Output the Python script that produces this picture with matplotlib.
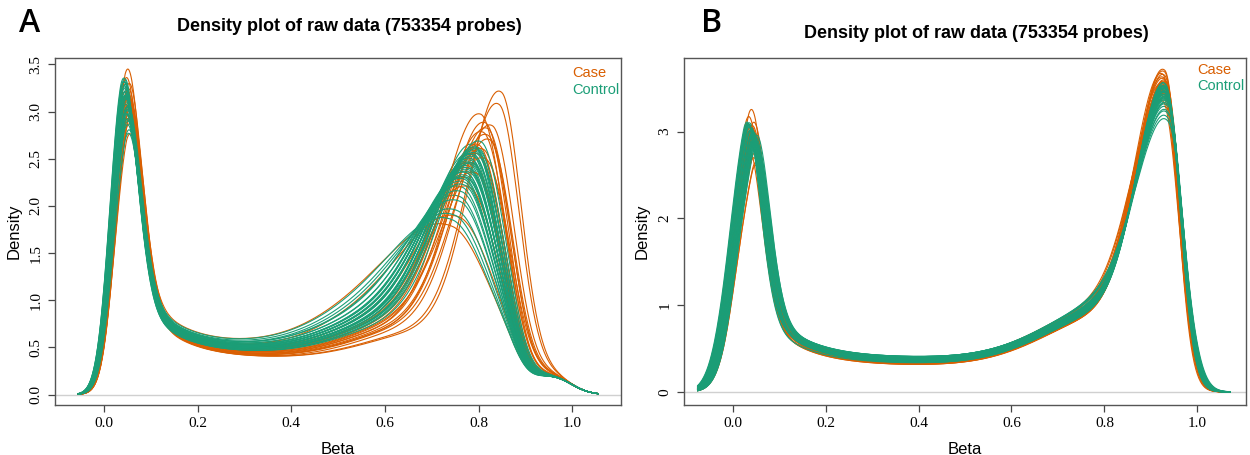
import numpy as np
import matplotlib.pyplot as plt

CASE_COLOR = '#D95F02'
CTRL_COLOR = '#1B9E77'
TITLE = 'Density plot of raw data (753354 probes)'

# ---- panel A: per-sample readings (peak positions / heights, plateau level, peak width factor)
case_a_low_x = [0.045, 0.048, 0.043, 0.050, 0.046, 0.044, 0.047, 0.049, 0.045,
                0.042, 0.048, 0.046, 0.050, 0.044, 0.047, 0.043, 0.049, 0.045]
case_a_low_y = [3.40, 3.25, 3.15, 3.05, 3.20, 2.95, 3.10, 2.85, 3.00,
                3.30, 2.70, 3.05, 2.90, 3.15, 2.80, 3.00, 2.95, 3.10]
case_a_high_x = [0.850, 0.845, 0.805, 0.815, 0.820, 0.810, 0.820, 0.800, 0.800,
                 0.790, 0.745, 0.760, 0.780, 0.810, 0.825, 0.795, 0.830, 0.815]
case_a_high_y = [3.20, 3.07, 2.97, 2.88, 2.82, 2.78, 2.75, 2.65, 2.55,
                 2.45, 1.78, 1.88, 2.20, 2.60, 2.70, 2.35, 2.85, 2.50]
case_a_mid = [0.38, 0.38, 0.40, 0.39, 0.39, 0.40, 0.40, 0.41, 0.42,
              0.44, 0.52, 0.47, 0.45, 0.41, 0.39, 0.43, 0.38, 0.42]
case_a_width = [0.80, 0.82, 0.90, 0.88, 0.90, 0.92, 0.92, 0.95, 0.98,
                1.00, 1.32, 1.25, 1.08, 0.95, 0.90, 1.02, 0.88, 0.98]

ctrl_a_low_x = [0.040, 0.037, 0.043, 0.039, 0.045, 0.036, 0.041, 0.044, 0.038, 0.042,
                0.040, 0.037, 0.043, 0.046, 0.039, 0.041, 0.044, 0.038, 0.036, 0.042,
                0.045, 0.043, 0.040, 0.038, 0.041, 0.044, 0.037, 0.039, 0.042, 0.045,
                0.040, 0.036, 0.043, 0.041, 0.044, 0.038, 0.040, 0.042, 0.037, 0.039]
ctrl_a_low_y = [3.10, 3.25, 3.00, 3.15, 2.90, 3.20, 3.05, 2.85, 3.30, 3.10,
                2.95, 3.18, 3.08, 2.75, 3.22, 3.02, 2.88, 3.12, 3.28, 2.98,
                2.70, 2.80, 2.92, 3.15, 3.05, 2.95, 3.20, 3.10, 2.85, 3.00,
                3.12, 3.24, 2.96, 3.06, 2.82, 3.16, 3.02, 2.90, 3.26, 3.08]
ctrl_a_high_x = [0.790, 0.785, 0.780, 0.795, 0.775, 0.770, 0.800, 0.785, 0.780, 0.790,
                 0.765, 0.775, 0.795, 0.760, 0.780, 0.785, 0.770, 0.790, 0.805, 0.775,
                 0.745, 0.750, 0.755, 0.780, 0.790, 0.770, 0.785, 0.795, 0.780, 0.765,
                 0.775, 0.800, 0.785, 0.770, 0.760, 0.790, 0.780, 0.775, 0.795, 0.785]
ctrl_a_high_y = [2.65, 2.55, 2.45, 2.60, 2.35, 2.30, 2.62, 2.50, 2.40, 2.55,
                 2.20, 2.30, 2.58, 2.10, 2.42, 2.48, 2.25, 2.52, 2.68, 2.35,
                 1.85, 1.90, 1.95, 2.38, 2.45, 2.28, 2.50, 2.56, 2.40, 2.15,
                 2.32, 2.60, 2.46, 2.22, 2.05, 2.54, 2.36, 2.30, 2.62, 2.44]
ctrl_a_mid = [0.44, 0.45, 0.46, 0.44, 0.47, 0.48, 0.43, 0.45, 0.46, 0.44,
              0.49, 0.47, 0.44, 0.50, 0.46, 0.45, 0.48, 0.44, 0.43, 0.47,
              0.52, 0.51, 0.50, 0.46, 0.45, 0.48, 0.45, 0.44, 0.46, 0.49,
              0.47, 0.43, 0.45, 0.48, 0.50, 0.44, 0.46, 0.47, 0.43, 0.45]
ctrl_a_width = [0.95, 1.00, 1.03, 0.97, 1.06, 1.08, 0.96, 1.01, 1.04, 1.00,
                1.12, 1.08, 0.98, 1.16, 1.04, 1.01, 1.10, 1.00, 0.94, 1.06,
                1.28, 1.24, 1.22, 1.05, 1.02, 1.08, 1.01, 0.99, 1.04, 1.13,
                1.07, 0.97, 1.02, 1.10, 1.18, 1.00, 1.06, 1.07, 0.96, 1.03]

# ---- panel B (normalised)
case_b_low_x = [0.035, 0.040, 0.030, 0.042, 0.036, 0.028, 0.038, 0.044, 0.033,
                0.029, 0.043, 0.036, 0.041, 0.031, 0.039, 0.034, 0.042, 0.037]
case_b_low_y = [3.20, 3.05, 2.95, 2.85, 3.00, 2.75, 2.90, 2.60, 2.80,
                3.10, 2.55, 2.95, 2.70, 3.00, 2.65, 2.85, 2.90, 3.00]
case_b_high_x = [0.930, 0.928, 0.932, 0.926, 0.930, 0.929, 0.933, 0.927, 0.931,
                 0.930, 0.926, 0.928, 0.932, 0.929, 0.931, 0.927, 0.930, 0.928]
case_b_high_y = [3.70, 3.62, 3.55, 3.66, 3.50, 3.45, 3.58, 3.40, 3.52,
                 3.64, 3.35, 3.48, 3.56, 3.60, 3.42, 3.54, 3.68, 3.46]
case_b_mid = [0.31, 0.33, 0.30, 0.35, 0.32, 0.34, 0.30, 0.36, 0.32,
              0.31, 0.37, 0.34, 0.33, 0.30, 0.36, 0.34, 0.31, 0.35]
case_b_width = [0.96, 0.98, 1.00, 0.97, 1.01, 1.02, 0.99, 1.04, 1.00,
                0.97, 1.05, 1.02, 0.99, 0.98, 1.03, 1.00, 0.96, 1.02]

ctrl_b_low_x = [0.035, 0.028, 0.040, 0.032, 0.043, 0.026, 0.037, 0.045, 0.030, 0.036,
                0.033, 0.027, 0.041, 0.046, 0.031, 0.038, 0.044, 0.034, 0.025, 0.039,
                0.045, 0.042, 0.035, 0.029, 0.037, 0.043, 0.027, 0.033, 0.040, 0.046,
                0.035, 0.026, 0.041, 0.038, 0.044, 0.030, 0.036, 0.039, 0.028, 0.032]
ctrl_b_low_y = [2.95, 3.02, 2.90, 2.98, 2.86, 3.05, 2.93, 2.84, 3.04, 2.96,
                2.88, 3.00, 2.94, 2.80, 3.03, 2.92, 2.85, 2.97, 3.05, 2.90,
                2.78, 2.82, 2.87, 2.99, 2.93, 2.89, 3.01, 2.96, 2.84, 2.91,
                2.97, 3.04, 2.88, 2.94, 2.83, 2.99, 2.92, 2.87, 3.03, 2.95]
ctrl_b_high_x = [0.934, 0.936, 0.932, 0.938, 0.935, 0.933, 0.937, 0.934, 0.936, 0.931,
                 0.935, 0.938, 0.933, 0.936, 0.934, 0.932, 0.937, 0.935, 0.933, 0.939,
                 0.934, 0.936, 0.932, 0.935, 0.937, 0.933, 0.936, 0.934, 0.938, 0.935,
                 0.932, 0.936, 0.934, 0.937, 0.933, 0.935, 0.938, 0.934, 0.936, 0.933]
ctrl_b_high_y = [3.45, 3.38, 3.50, 3.30, 3.42, 3.52, 3.25, 3.40, 3.35, 3.55,
                 3.44, 3.20, 3.48, 3.36, 3.41, 3.53, 3.28, 3.46, 3.50, 3.10,
                 3.43, 3.37, 3.51, 3.39, 3.32, 3.49, 3.34, 3.45, 3.22, 3.40,
                 3.54, 3.36, 3.47, 3.30, 3.49, 3.42, 3.15, 3.44, 3.38, 3.51]
ctrl_b_mid = [0.35, 0.38, 0.33, 0.37, 0.35, 0.32, 0.39, 0.34, 0.37, 0.33,
              0.36, 0.39, 0.32, 0.37, 0.35, 0.33, 0.38, 0.34, 0.32, 0.39,
              0.35, 0.37, 0.33, 0.36, 0.38, 0.32, 0.37, 0.35, 0.39, 0.34,
              0.33, 0.37, 0.35, 0.38, 0.32, 0.36, 0.39, 0.34, 0.37, 0.33]
ctrl_b_width = [1.00, 1.02, 0.98, 1.04, 1.01, 0.98, 1.06, 1.01, 1.03, 0.97,
                1.00, 1.08, 0.99, 1.03, 1.01, 0.98, 1.05, 1.00, 0.99, 1.10,
                1.01, 1.03, 0.98, 1.02, 1.04, 0.99, 1.03, 1.00, 1.07, 1.02,
                0.97, 1.03, 1.00, 1.04, 0.99, 1.01, 1.09, 1.00, 1.02, 0.98]

# curve shape settings for each panel
SHAPE_A = dict(x0=-0.055, x1=1.055, u_sl=0.027, u_sr=0.032, tail=0.9, tau=0.08,
               plat_on=0.01, edge_on=0.012, plat_off=0.88, edge_off=0.02,
               m_sl=0.085, m_sr=0.055, m2_off=0.15, m2_sd=0.13, m2_amp=0.36,
               sh_mu=0.96, sh_sd=0.04, sh_amp=0.17)
SHAPE_B = dict(x0=-0.075, x1=1.07, u_sl=0.038, u_sr=0.032, tail=0.85, tau=0.085,
               plat_on=0.0, edge_on=0.012, plat_off=0.965, edge_off=0.012,
               m_sl=0.062, m_sr=0.032, m2_off=0.113, m2_sd=0.14, m2_amp=0.6,
               sh_mu=0.96, sh_sd=0.04, sh_amp=0.0)


def sig(z):
    return 1.0 / (1.0 + np.exp(-z))


def density(x, lx, ly, hx, hy, mid, w, s):
    def split(mu, sl, sr):
        sd = np.where(x < mu, sl, sr)
        return np.exp(-0.5 * ((x - mu) / sd) ** 2)

    taper = sig((s['plat_off'] - x) / s['edge_off'])
    plat = mid * sig((x - s['plat_on']) / s['edge_on']) * taper
    tail = s['tail'] * np.exp(-np.clip(x - lx, 0, None) / s['tau']) * sig((x - lx) / 0.01)
    m2 = s['m2_amp'] * w * np.exp(-0.5 * ((x - hx + s['m2_off']) / s['m2_sd']) ** 2) * taper
    sh = s['sh_amp'] * np.exp(-0.5 * ((x - s['sh_mu']) / s['sh_sd']) ** 2)
    rest = plat + tail + m2 + sh
    u = split(lx, s['u_sl'], s['u_sr'])
    m = split(hx, s['m_sl'] * w, s['m_sr'] * w)
    # scale the two peaks so the curve goes through the read-off peak heights
    i, j = np.argmin(abs(x - lx)), np.argmin(abs(x - hx))
    au, am = np.linalg.solve([[u[i], m[i]], [u[j], m[j]]], [ly - rest[i], hy - rest[j]])
    return au * u + am * m + rest


def panel(ax, shape, case, ctrl, ylim, yticks, ylabels, letter, lx, title_dy, leg_y):
    x = np.linspace(shape['x0'], shape['x1'], 700)
    ax.axhline(0, color='#d0d0d0', lw=1, zorder=0)
    n = max(len(case[0]), len(ctrl[0]))
    for k in range(n):
        for grp, col in ((ctrl, CTRL_COLOR), (case, CASE_COLOR)):
            if k < len(grp[0]):
                y = density(x, *(g[k] for g in grp), shape)
                ax.plot(x, y, color=col, lw=0.8)
    ax.set_xlim(-0.105, 1.105)
    ax.set_ylim(*ylim)
    ax.set_xticks([0, 0.2, 0.4, 0.6, 0.8, 1.0])
    ax.set_xticklabels(['0.0', '0.2', '0.4', '0.6', '0.8', '1.0'],
                       family='Liberation Serif', fontsize=11)
    ax.set_yticks(yticks)
    ax.set_yticklabels(ylabels, family='Liberation Serif', fontsize=11,
                       rotation=90, va='center')
    ax.tick_params(direction='out', length=5, width=0.9, color='#444444', pad=4)
    for sp in ax.spines.values():
        sp.set_color('#555555')
        sp.set_linewidth(1.0)
    ax.set_xlabel('Beta', family='Liberation Sans', fontsize=12, labelpad=8)
    ax.set_ylabel('Density', family='Liberation Sans', fontsize=12, labelpad=6)
    ax.text(0.52, 1.0 + title_dy, TITLE, transform=ax.transAxes, ha='center',
            va='center', fontsize=13, fontweight='bold', family='Liberation Sans')
    ax.text(0.913, leg_y, 'Case', color=CASE_COLOR, transform=ax.transAxes,
            fontsize=10.5, family='Liberation Sans', va='center')
    ax.text(0.913, leg_y - 0.047, 'Control', color=CTRL_COLOR, transform=ax.transAxes,
            fontsize=10.5, family='Liberation Sans', va='center')
    ax.figure.text(lx, 0.948, letter, fontsize=23, family='Open Sans',
                   fontweight='semibold', va='center', ha='center')


fig = plt.figure(figsize=(12.5, 4.55), dpi=100)
ax_a = fig.add_axes([0.044, 0.110, 0.453, 0.763])
ax_b = fig.add_axes([0.547, 0.110, 0.450, 0.763])

panel(ax_a, SHAPE_A,
      (case_a_low_x, case_a_low_y, case_a_high_x, case_a_high_y, case_a_mid, case_a_width),
      (ctrl_a_low_x, ctrl_a_low_y, ctrl_a_high_x, ctrl_a_high_y, ctrl_a_mid, ctrl_a_width),
      (-0.11, 3.57), [0, 0.5, 1, 1.5, 2, 2.5, 3, 3.5],
      ['0.0', '0.5', '1.0', '1.5', '2.0', '2.5', '3.0', '3.5'], 'A', 0.024, 0.09, 0.955)
panel(ax_b, SHAPE_B,
      (case_b_low_x, case_b_low_y, case_b_high_x, case_b_high_y, case_b_mid, case_b_width),
      (ctrl_b_low_x, ctrl_b_low_y, ctrl_b_high_x, ctrl_b_high_y, ctrl_b_mid, ctrl_b_width),
      (-0.15, 3.85), [0, 1, 2, 3], ['0', '1', '2', '3'], 'B', 0.569, 0.07, 0.965)

fig.savefig('out.png', dpi=100)
